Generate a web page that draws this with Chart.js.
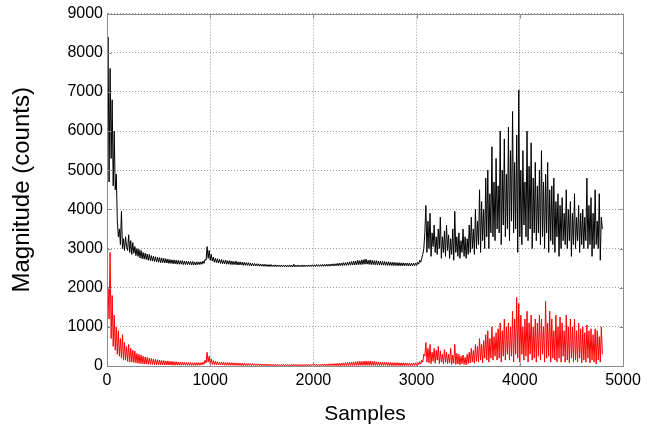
<!DOCTYPE html>
<html>
<head>
<meta charset="utf-8">
<script src="https://cdn.jsdelivr.net/npm/chart.js@4/dist/chart.umd.min.js"></script>
<style>
  html, body { margin: 0; padding: 0; background: #ffffff; }
  #wrap { width: 663px; height: 429px; }
</style>
</head>
<body>
<div id="wrap"><canvas id="c" width="663" height="429"></canvas></div>
<script>
// ---- data (one value every 10 samples) ----
const sampleStep = 10;

const xTicks = [0, 1000, 2000, 3000, 4000, 5000];
const yTicks = [0, 1000, 2000, 3000, 4000, 5000, 6000, 7000, 8000, 9000];

const xTitle = 'Samples';
const yTitle = 'Magnitude (counts)';

// black trace
const blackSeries = [
  6500, 8400, 4700, 7600, 5300, 6800, 4600, 6000, 4500, 4900,
  3700, 3300, 3500, 3100, 3950, 3000, 3250, 2950, 3300, 3050,
  2950, 3350, 2900, 3200, 2850, 3150, 2880, 3050, 2820, 3000,
  2800, 2980, 2760, 2950, 2740, 2900, 2730, 2880, 2720, 2860,
  2700, 2850, 2690, 2820, 2680, 2800, 2670, 2790, 2660, 2780,
  2650, 2770, 2640, 2760, 2640, 2750, 2630, 2740, 2630, 2730,
  2620, 2720, 2620, 2710, 2610, 2710, 2610, 2700, 2600, 2700,
  2600, 2690, 2600, 2690, 2590, 2680, 2590, 2680, 2590, 2670,
  2590, 2670, 2580, 2670, 2580, 2660, 2580, 2660, 2590, 2660,
  2590, 2660, 2600, 2680, 2620, 2720, 2700, 3050, 2750, 2950,
  2700, 2850, 2680, 2780, 2650, 2750, 2640, 2740, 2630, 2720,
  2620, 2720, 2610, 2700, 2610, 2700, 2600, 2690, 2600, 2690,
  2590, 2680, 2590, 2670, 2590, 2680, 2580, 2660, 2580, 2660,
  2580, 2650, 2570, 2650, 2570, 2640, 2570, 2640, 2560, 2630,
  2560, 2620, 2560, 2620, 2555, 2610, 2555, 2610, 2550, 2600,
  2550, 2600, 2545, 2600, 2545, 2590, 2540, 2590, 2540, 2590,
  2540, 2580, 2540, 2585, 2535, 2580, 2535, 2580, 2535, 2580,
  2535, 2575, 2535, 2580, 2530, 2575, 2530, 2580, 2530, 2575,
  2530, 2600, 2530, 2575, 2535, 2580, 2535, 2575, 2535, 2580,
  2535, 2580, 2535, 2575, 2540, 2580, 2540, 2580, 2540, 2585,
  2540, 2585, 2540, 2590, 2545, 2590, 2545, 2590, 2545, 2595,
  2545, 2595, 2550, 2600, 2550, 2600, 2550, 2605, 2555, 2610,
  2555, 2610, 2560, 2620, 2560, 2625, 2565, 2630, 2565, 2640,
  2570, 2640, 2570, 2650, 2575, 2660, 2575, 2670, 2580, 2680,
  2580, 2680, 2585, 2700, 2590, 2690, 2590, 2710, 2595, 2720,
  2600, 2730, 2600, 2700, 2595, 2710, 2590, 2700, 2590, 2690,
  2585, 2690, 2580, 2680, 2580, 2680, 2575, 2670, 2575, 2670,
  2570, 2660, 2570, 2660, 2570, 2650, 2565, 2650, 2565, 2645,
  2565, 2640, 2560, 2640, 2560, 2635, 2560, 2635, 2560, 2630,
  2560, 2630, 2555, 2630, 2555, 2625, 2560, 2625, 2560, 2630,
  2570, 2650, 2600, 2700, 2650, 2750, 2850, 3000, 3400, 4100,
  2900, 3700, 3000, 3900, 2800, 3400, 3050, 3600, 2900, 3300,
  2850, 3500, 3000, 3800, 2750, 3300, 2900, 3450, 2800, 3600,
  2950, 3350, 2750, 3250, 2850, 3500, 2700, 3950, 2900, 3300,
  2800, 3400, 2750, 3200, 2900, 3500, 2800, 3300, 2750, 3250,
  2850, 3600, 2900, 3800, 3000, 3500, 2850, 4000, 3000, 3700,
  3100, 4500, 2900, 4200, 3200, 4000, 3000, 4800, 3300, 5000,
  3000, 4400, 3400, 5600, 3300, 4700, 3200, 5300, 3500, 4600,
  3400, 6000, 3100, 5000, 3600, 5800, 3300, 4900, 3500, 6100,
  3200, 5500, 3700, 6500, 3400, 5200, 3500, 5900, 2900, 7050,
  3300, 5000, 3100, 5500, 3600, 4700, 3300, 6000, 3200, 5100,
  3500, 5700, 3000, 4800, 3400, 5200, 3200, 4600, 3400, 5000,
  3100, 5500, 3300, 4700, 3000, 4900, 3400, 5200, 2900, 4500,
  3200, 4600, 3100, 4800, 2900, 4200, 3300, 4400, 2800, 4100,
  3000, 4300, 3200, 3900, 3100, 4500, 3000, 4000, 3200, 4200,
  2800, 3900, 3100, 4400, 3000, 3800, 3200, 4100, 2900, 3900,
  3100, 4000, 3000, 3800, 3200, 4800, 3000, 4100, 3100, 4300,
  2800, 3900, 3000, 4500, 3100, 3700, 3000, 4400, 2700, 3800,
  3500
];

// red trace
const redSeries = [
  1500, 2000, 1200, 2900, 700, 1800, 500, 1300, 400, 1000,
  300, 900, 250, 700, 200, 800, 150, 600, 150, 500,
  120, 550, 100, 450, 100, 400, 90, 380, 80, 320,
  70, 300, 60, 280, 60, 250, 50, 230, 50, 220,
  40, 200, 40, 190, 40, 180, 35, 170, 35, 160,
  30, 150, 30, 140, 30, 140, 25, 130, 25, 130,
  25, 120, 25, 120, 20, 110, 20, 110, 20, 100,
  20, 100, 20, 95, 20, 95, 18, 90, 18, 90,
  18, 90, 15, 85, 15, 85, 15, 85, 20, 85,
  20, 85, 25, 100, 40, 150, 80, 350, 100, 250,
  50, 180, 40, 140, 35, 120, 30, 110, 30, 100,
  25, 100, 25, 95, 20, 90, 20, 90, 20, 85,
  18, 85, 18, 80, 15, 80, 15, 75, 15, 75,
  12, 70, 12, 70, 12, 65, 10, 65, 10, 60,
  10, 60, 10, 58, 8, 55, 8, 55, 8, 52,
  8, 50, 6, 50, 6, 48, 6, 48, 5, 45,
  5, 45, 5, 42, 5, 42, 4, 40, 4, 40,
  4, 40, 4, 38, 4, 40, 3, 38, 3, 40,
  3, 45, 3, 38, 3, 40, 3, 38, 3, 40,
  3, 40, 3, 40, 4, 42, 4, 40, 4, 42,
  4, 42, 4, 45, 5, 45, 5, 48, 5, 48,
  5, 50, 6, 52, 6, 55, 6, 55, 7, 58,
  7, 60, 8, 65, 8, 70, 9, 75, 9, 80,
  10, 85, 10, 90, 11, 95, 12, 100, 12, 105,
  13, 110, 14, 115, 15, 120, 15, 115, 16, 125,
  16, 130, 16, 120, 15, 125, 15, 115, 14, 120,
  14, 110, 13, 105, 13, 100, 12, 100, 12, 95,
  12, 95, 11, 90, 11, 90, 10, 85, 10, 85,
  10, 85, 10, 80, 10, 80, 10, 80, 10, 78,
  10, 78, 10, 78, 10, 75, 10, 78, 12, 80,
  15, 90, 30, 110, 50, 150, 100, 300, 250, 600,
  100, 450, 80, 550, 60, 350, 120, 450, 70, 400,
  150, 500, 60, 380, 100, 300, 50, 420, 90, 350,
  60, 300, 80, 450, 40, 280, 70, 550, 40, 320,
  50, 300, 30, 250, 60, 280, 40, 220, 30, 300,
  60, 350, 80, 450, 100, 400, 70, 550, 120, 500,
  100, 700, 150, 550, 80, 650, 200, 800, 150, 900,
  100, 700, 200, 1000, 150, 750, 250, 850, 150, 950,
  200, 1100, 100, 900, 250, 1200, 150, 1000, 300, 1100,
  150, 1000, 250, 1400, 100, 1200, 300, 1750, 200, 1600,
  100, 1300, 300, 1000, 150, 1200, 250, 1400, 100, 1100,
  300, 1300, 150, 1000, 200, 1200, 100, 1100, 250, 1300,
  150, 1200, 300, 1000, 100, 1650, 200, 1100, 250, 1400,
  100, 1200, 200, 900, 150, 1300, 100, 1000, 200, 1250,
  100, 1100, 250, 900, 100, 1300, 150, 1000, 80, 1200,
  200, 1000, 100, 1200, 150, 900, 100, 1100, 200, 950,
  80, 1000, 150, 850, 100, 1050, 200, 900, 80, 950,
  150, 800, 100, 950, 50, 900, 150, 750, 100, 1000,
  300
];

const samples = blackSeries.map((_, i) => i * sampleStep);
const toPoints = arr => arr.map((v, i) => ({ x: samples[i], y: v }));

// ---- plot box (full frame) and small inward ticks, like the reference ----
const boxPlugin = {
  id: 'box',
  afterDraw(chart) {
    const { ctx, chartArea: a, scales } = chart;
    ctx.save();
    ctx.strokeStyle = '#8c8c8c';
    ctx.lineWidth = 1;
    ctx.setLineDash([]);
    const L = Math.round(a.left) + 0.5, T = Math.round(a.top) + 0.5;
    const R = Math.round(a.right) + 0.5, B = Math.round(a.bottom) + 0.5;
    ctx.strokeRect(L, T, R - L, B - T);
    ctx.beginPath();
    scales.x.ticks.forEach(t => {
      const px = Math.round(scales.x.getPixelForValue(t.value)) + 0.5;
      ctx.moveTo(px, B); ctx.lineTo(px, B - 4);
      ctx.moveTo(px, T); ctx.lineTo(px, T + 4);
    });
    scales.y.ticks.forEach(t => {
      const py = Math.round(scales.y.getPixelForValue(t.value)) + 0.5;
      ctx.moveTo(L, py); ctx.lineTo(L + 4, py);
      ctx.moveTo(R, py); ctx.lineTo(R - 4, py);
    });
    ctx.stroke();
    ctx.restore();
  }
};

const fontFamily = 'Liberation Sans, Arial, sans-serif';
const tickFont = { family: fontFamily, size: 16 };
const plainTick = v => String(v);

new Chart(document.getElementById('c'), {
  type: 'line',
  data: {
    datasets: [
      { data: toPoints(blackSeries), borderColor: '#000000', borderWidth: 1,
        pointRadius: 0, tension: 0, fill: false },
      { data: toPoints(redSeries), borderColor: '#ff0000', borderWidth: 1,
        pointRadius: 0, tension: 0, fill: false }
    ]
  },
  options: {
    responsive: false,
    animation: false,
    devicePixelRatio: 1,
    layout: { padding: { top: 13, right: 40, bottom: 0, left: 0 } },
    plugins: { legend: { display: false }, tooltip: { enabled: false } },
    scales: {
      x: {
        type: 'linear',
        min: xTicks[0], max: xTicks[xTicks.length - 1],
        afterBuildTicks: s => { s.ticks = xTicks.map(v => ({ value: v })); },
        afterFit: s => { s.height = 63; },
        ticks: { font: tickFont, color: '#000', padding: 5, maxRotation: 0, callback: plainTick },
        grid: { color: '#9a9a9a', drawTicks: false, lineWidth: 1 },
        border: { display: true, color: '#8c8c8c', dash: [1, 2] },
        title: { display: true, text: xTitle, color: '#000',
                 font: { family: fontFamily, size: 21 },
                 padding: { top: 0, bottom: 2 } }
      },
      y: {
        type: 'linear',
        min: yTicks[0], max: yTicks[yTicks.length - 1],
        afterBuildTicks: s => { s.ticks = yTicks.map(v => ({ value: v })); },
        afterFit: s => { s.width = 107; },
        ticks: { font: tickFont, color: '#000', padding: 4, callback: plainTick },
        grid: { color: '#9a9a9a', drawTicks: false, lineWidth: 1 },
        border: { display: true, color: '#8c8c8c', dash: [1, 2] },
        title: { display: true, text: yTitle, color: '#000',
                 font: { family: fontFamily, size: 24 },
                 padding: { top: 8, bottom: 0 } }
      }
    }
  },
  plugins: [boxPlugin]
});
</script>
</body>
</html>
